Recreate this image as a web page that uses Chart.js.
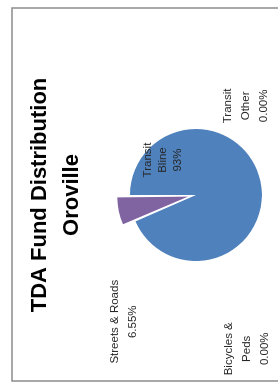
<!DOCTYPE html>
<html>
<head>
<meta charset="utf-8">
<script src="https://cdn.jsdelivr.net/npm/chart.js@4"></script>
<style>
html,body{margin:0;padding:0;background:#fff;width:278px;height:392px;overflow:hidden;}
#wrap{position:absolute;left:0;top:0;width:392px;height:278px;transform-origin:0 0;transform:translateY(392px) rotate(-90deg);}
canvas{display:block;}
</style>
</head>
<body>
<div id="wrap"><canvas id="c" width="392" height="278"></canvas></div>
<script>
const titleLines = ['TDA Fund Distribution', 'Oroville'];
const categories = ['Transit Bline', 'Transit Other', 'Bicycles & Peds', 'Streets & Roads'];
const values = [93.45, 0, 0, 6.55];
const pctLabels = ['93%', '0.00%', '0.00%', '6.55%'];
const labelLines = [['Transit', 'Bline'], ['Transit', 'Other'], ['Bicycles &', 'Peds'], ['Streets & Roads']];
const colors = ['#4F81BD', '#9BBB59', '#F79646', '#8064A2'];
const offsets = [0, 0, 0, 32];
// label placement relative to pie centre, in units of radius
const labelPos = [[0.53, -0.5], [1.35, 0.76], [-2.33, 0.77], [-1.92, -1.09]];

const frame = {
  id: 'frame',
  beforeDraw(chart) {
    const ctx = chart.ctx;
    ctx.save();
    ctx.strokeStyle = '#8c8c8c';
    ctx.lineWidth = 1.5;
    ctx.strokeRect(11, 12, 373, 300);
    ctx.restore();
  }
};

const labels = {
  id: 'pieLabels',
  afterDatasetsDraw(chart) {
    const meta = chart.getDatasetMeta(0);
    const arc = meta.data[0];
    const cx = arc.x, cy = arc.y, r = arc.outerRadius;
    const ctx = chart.ctx;
    ctx.save();
    ctx.font = '11.5px "Liberation Sans", Arial, sans-serif';
    ctx.fillStyle = '#262626';
    ctx.textAlign = 'center';
    ctx.textBaseline = 'middle';
    categories.forEach((c, i) => {
      const lines = labelLines[i].concat([pctLabels[i]]);
      const x = cx + labelPos[i][0] * r;
      const l = i === 0 ? 15 : 18;
      const yy = cy + labelPos[i][1] * r - (lines.length - 1) * l / 2;
      lines.forEach((t, k) => ctx.fillText(t, x, yy + k * l));
    });
    ctx.restore();
  }
};

new Chart(document.getElementById('c'), {
  type: 'pie',
  data: {
    labels: categories,
    datasets: [{
      data: values,
      backgroundColor: colors,
      borderWidth: 0,
      offset: offsets,
      radius: 66
    }]
  },
  options: {
    responsive: false,
    animation: false,
    layout: { padding: { left: 2, right: 0, top: 0, bottom: 14 } },
    plugins: {
      legend: { display: false },
      tooltip: { enabled: false },
      title: {
        display: true,
        text: titleLines,
        color: '#000',
        font: { family: '"Liberation Sans", Arial, sans-serif', size: 22, weight: 'bold', lineHeight: 1.45 },
        padding: { top: 24, bottom: 40 }
      }
    }
  },
  plugins: [frame, labels]
});
</script>
</body>
</html>
